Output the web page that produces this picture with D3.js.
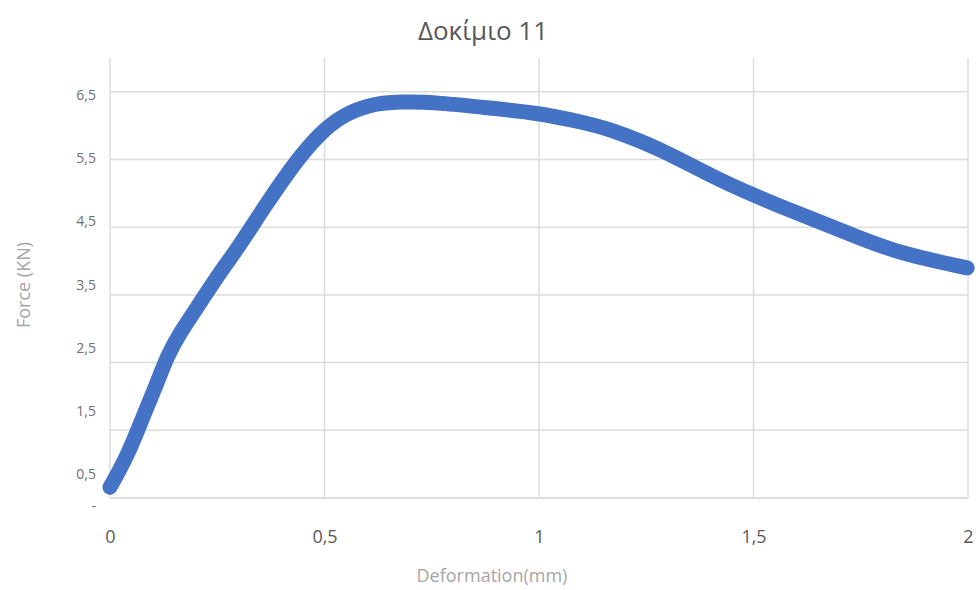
<!DOCTYPE html>
<html>
<head>
<meta charset="utf-8">
<script src="https://cdn.jsdelivr.net/npm/d3@7"></script>
<style>
  body { margin: 0; background: #fff; }
  text { font-family: "Open Sans", "Liberation Sans", sans-serif; }
</style>
</head>
<body>
<svg id="chart" width="980" height="590"></svg>
<script>
// Deformation (mm) and force (KN)
const deformation = [0, 0.04, 0.077, 0.11, 0.133, 0.163, 0.21, 0.256, 0.296, 0.366, 0.436, 0.49,
  0.536, 0.599, 0.676, 0.769, 0.886, 0.995, 1.096, 1.172, 1.289, 1.406, 1.508, 1.601, 1.718, 1.834, 1.998];
const force = [0.66, 1.11, 1.7, 2.2, 2.59, 2.94, 3.38, 3.83, 4.17, 4.86, 5.5, 5.89,
  6.13, 6.31, 6.36, 6.34, 6.26, 6.19, 6.06, 5.94, 5.64, 5.24, 4.95, 4.71, 4.42, 4.12, 3.9];

const xTicks = [0, 0.5, 1, 1.5, 2];
const yTicks = [0.5, 1.5, 2.5, 3.5, 4.5, 5.5, 6.5];
const yLabelTicks = [0, 0.5, 1.5, 2.5, 3.5, 4.5, 5.5, 6.5];

const svg = d3.select("#chart");

const x = d3.scaleLinear().domain([0, 2]).range([110, 968]);
const y = d3.scaleLinear().domain([0.5, 7]).range([498, 58]);
// tick labels in the picture sit on a slightly tighter spacing than the grid
const yLabel = d3.scaleLinear().domain([0, 6.5]).range([506, 95]);

const fmtX = v => String(v).replace(".", ",");
const fmtY = v => v === 0 ? "-" : String(v).replace(".", ",");

// horizontal grid
svg.append("g")
  .selectAll("line")
  .data(yTicks)
  .join("line")
  .attr("x1", x(0)).attr("x2", x(2))
  .attr("y1", d => y(d)).attr("y2", d => y(d))
  .attr("stroke", d => d === 0.5 ? "#cfcfcf" : "#dcdcdc")
  .attr("stroke-width", 1.5);

// vertical grid
svg.append("g")
  .selectAll("line")
  .data(xTicks)
  .join("line")
  .attr("x1", d => x(d)).attr("x2", d => x(d))
  .attr("y1", y(7)).attr("y2", y(0.5))
  .attr("stroke", "#dcdcdc")
  .attr("stroke-width", 1.5);

// x axis labels
const xAxis = svg.append("g")
  .attr("transform", `translate(0, ${y(0.5) + 29})`)
  .call(d3.axisBottom(x).tickValues(xTicks).tickFormat(fmtX).tickSize(0));
xAxis.select(".domain").remove();
xAxis.selectAll("text")
  .attr("font-size", 18)
  .attr("fill", "#595959")
  .attr("font-family", "'Open Sans', sans-serif");

// y axis labels
const yAxis = svg.append("g")
  .attr("transform", "translate(96, 0)")
  .call(d3.axisLeft(yLabel).tickValues(yLabelTicks).tickFormat(fmtY).tickSize(0).tickPadding(0));
yAxis.select(".domain").remove();
yAxis.selectAll("text")
  .attr("font-size", 14)
  .attr("fill", "#6f6f6f")
  .attr("font-family", "'Open Sans', sans-serif");

// the curve
const line = d3.line()
  .x((d, i) => x(deformation[i]))
  .y(d => y(d))
  .curve(d3.curveBasis);

svg.append("path")
  .datum(force)
  .attr("d", line)
  .attr("fill", "none")
  .attr("stroke", "#4472c4")
  .attr("stroke-width", 15)
  .attr("stroke-linecap", "round")
  .attr("stroke-linejoin", "round");

// titles
svg.append("text")
  .attr("x", 483).attr("y", 40)
  .attr("text-anchor", "middle")
  .attr("font-size", 26)
  .attr("fill", "#595959")
  .text("Δοκίμιο 11");

svg.append("text")
  .attr("x", 492).attr("y", 582)
  .attr("text-anchor", "middle")
  .attr("font-size", 18)
  .attr("fill", "#a6a6a6")
  .text("Deformation(mm)");

svg.append("text")
  .attr("transform", "translate(30, 285) rotate(-90)")
  .attr("text-anchor", "middle")
  .attr("font-size", 18)
  .attr("fill", "#a6a6a6")
  .text("Force (KN)");
</script>
</body>
</html>
